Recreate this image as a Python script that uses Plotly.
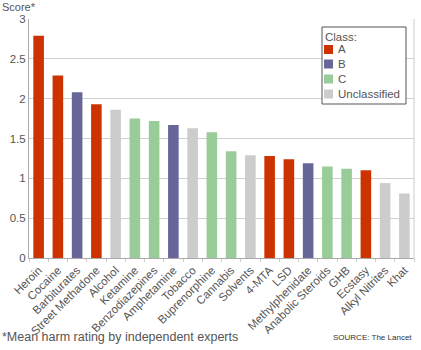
import plotly.graph_objects as go

drugs = ["Heroin", "Cocaine", "Barbiturates", "Street Methadone", "Alcohol", "Ketamine",
         "Benzodiazepines", "Amphetamine", "Tobacco", "Buprenorphine", "Cannabis", "Solvents",
         "4-MTA", "LSD", "Methylphenidate", "Anabolic Steroids", "GHB", "Ecstasy",
         "Alkyl Nitrites", "Khat"]
scores = [2.79, 2.29, 2.08, 1.93, 1.86, 1.75, 1.72, 1.67, 1.63, 1.58, 1.34, 1.29,
          1.28, 1.24, 1.19, 1.15, 1.12, 1.10, 0.94, 0.81]
classes = ["A", "A", "B", "A", "U", "C", "C", "B", "U", "C", "C", "U",
           "A", "A", "B", "C", "C", "A", "U", "U"]
class_order = ["A", "B", "C", "U"]
class_names = {"A": "A", "B": "B", "C": "C", "U": "Unclassified"}
class_colors = {"A": "#CC3300", "B": "#666699", "C": "#99CC99", "U": "#CCCCCC"}
yticks = [0, 0.5, 1, 1.5, 2, 2.5, 3]
ytick_text = ["0", "0.5", "1", "1.5", "2", "2.5", "3"]

W, H = 421, 350
ML, MR, MT, MB = 29, 7, 19, 92
PW, PH = W - ML - MR, H - MT - MB


def px(x):
    return (x - ML) / PW


def py(y):
    return (H - MB - y) / PH


fig = go.Figure()
for c in class_order:
    xs = [d for d, k in zip(drugs, classes) if k == c]
    ys = [s for s, k in zip(scores, classes) if k == c]
    fig.add_trace(go.Bar(x=xs, y=ys, name=class_names[c], marker_color=class_colors[c],
                         marker_line_width=0, width=0.55, showlegend=False))

font = "Liberation Sans, Arial, sans-serif"
txt = "#555555"

shapes = [
    dict(type="line", xref="paper", yref="paper", x0=1, x1=1, y0=0, y1=1,
         line=dict(color="#cccccc", width=1)),
    # legend box
    dict(type="rect", xref="paper", yref="paper", x0=px(322), x1=px(406), y0=py(27), y1=py(104),
         line=dict(color="#555555", width=1), fillcolor="white", layer="above"),
]
annotations = [
    dict(text="Score*", xref="paper", yref="paper", x=px(0), y=py(-0.5),
         xanchor="left", yanchor="top", showarrow=False, font=dict(size=11, color=txt)),
    dict(text="*Mean harm rating by independent experts", xref="paper", yref="paper",
         x=px(0), y=py(337), xanchor="left", yanchor="middle", showarrow=False,
         font=dict(size=12.5, color=txt)),
    dict(text="SOURCE: The Lancet", xref="paper", yref="paper",
         x=px(414), y=py(337.5), xanchor="right", yanchor="middle", showarrow=False,
         font=dict(size=8, color="#333333")),
    dict(text="Class:", xref="paper", yref="paper", x=px(323), y=py(36.5),
         xanchor="left", yanchor="middle", showarrow=False, font=dict(size=11.5, color=txt)),
]
item_tops = [45, 59.5, 74.5, 89.5]
for c, top in zip(class_order, item_tops):
    shapes.append(dict(type="rect", xref="paper", yref="paper", x0=px(324), x1=px(333),
                       y0=py(top), y1=py(top + 9), line=dict(width=0),
                       fillcolor=class_colors[c], layer="above"))
    annotations.append(dict(text=class_names[c], xref="paper", yref="paper", x=px(336),
                            y=py(top + 4.5), xanchor="left", yanchor="middle", showarrow=False,
                            font=dict(size=11.5, color=txt)))

fig.update_layout(
    width=W, height=H,
    margin=dict(l=ML, r=MR, t=MT, b=MB),
    barmode="overlay",
    plot_bgcolor="white", paper_bgcolor="white",
    font=dict(family=font, size=11, color=txt),
    showlegend=False,
    xaxis=dict(
        type="category", categoryorder="array", categoryarray=drugs,
        range=[-0.5, 19.5], tickangle=-45, showgrid=False,
        showline=True, linecolor="#aaaaaa", linewidth=1,
        ticks="outside", tickson="boundaries", ticklen=3, tickcolor="#cccccc",
        tickfont=dict(size=11.5, color=txt),
    ),
    yaxis=dict(
        range=[0, 3], tickvals=yticks, ticktext=ytick_text,
        showgrid=True, gridcolor="#d0d0d0", gridwidth=1,
        showline=True, linecolor="#aaaaaa", linewidth=1,
        zeroline=False, ticks="", tickfont=dict(size=11.5, color=txt),
    ),
    shapes=shapes,
    annotations=annotations,
)
fig.write_html("out.html")
